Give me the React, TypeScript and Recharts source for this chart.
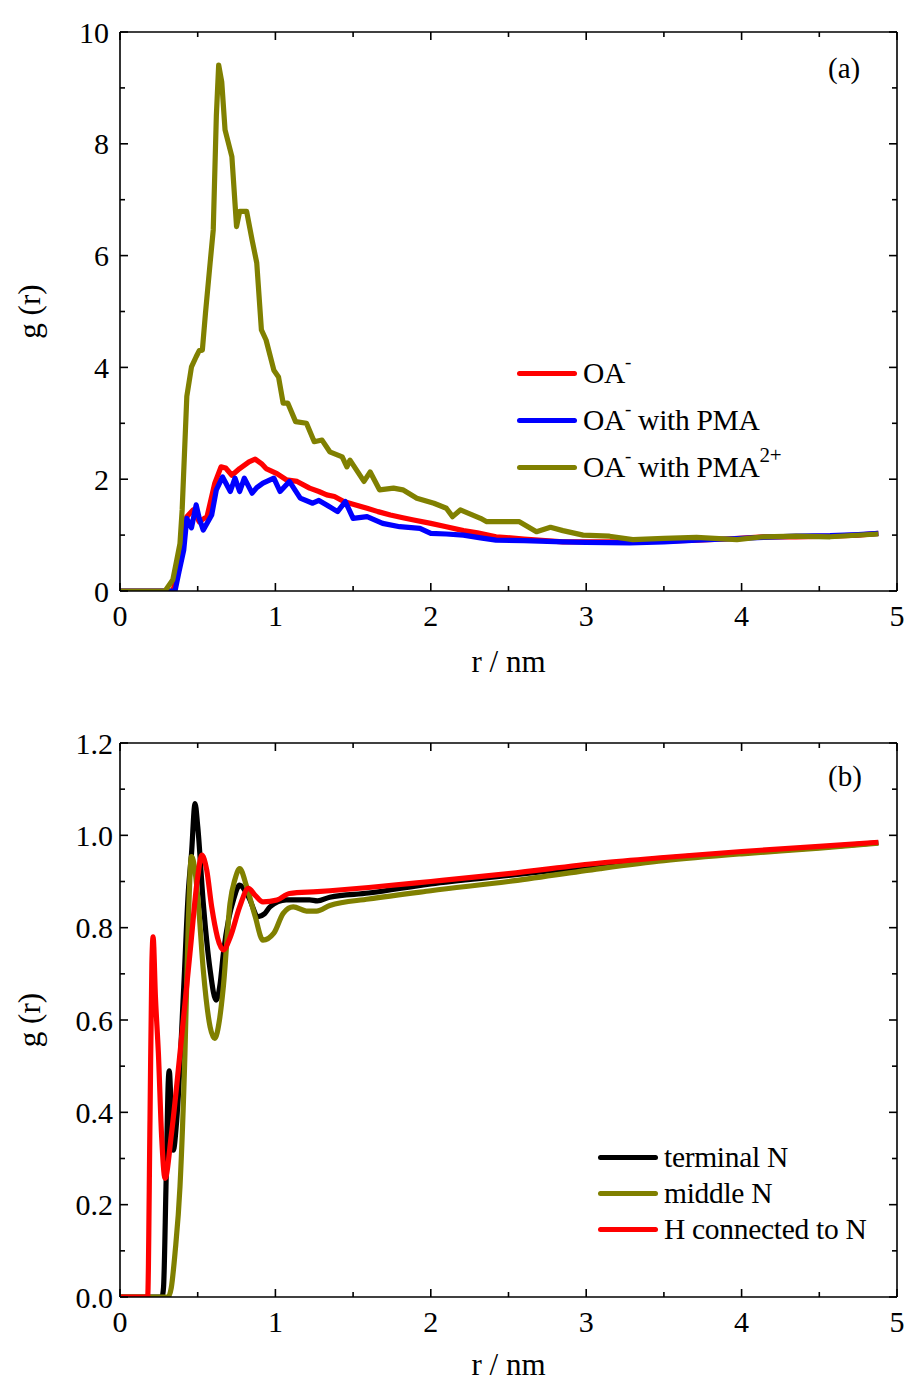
import React from "react";
import { LineChart, Line, XAxis, YAxis } from "recharts";

// ---- panel (a): g(r) of OA- around various species ----
const oaRed = [
  [0, 0], [0.34, 0], [0.36, 0.2], [0.386, 0.73], [0.41, 1.1], [0.43, 1.33], [0.47, 1.45], [0.51, 1.24],
  [0.56, 1.33], [0.61, 1.93], [0.65, 2.22], [0.68, 2.2], [0.72, 2.07], [0.77, 2.19], [0.83, 2.31],
  [0.87, 2.36], [0.91, 2.28], [0.94, 2.19], [1.01, 2.1], [1.07, 1.99], [1.14, 1.96], [1.22, 1.84],
  [1.28, 1.78], [1.33, 1.72], [1.38, 1.69], [1.44, 1.6], [1.5, 1.55], [1.59, 1.48], [1.66, 1.42],
  [1.74, 1.36], [1.82, 1.31], [1.89, 1.27], [2.0, 1.21], [2.1, 1.15], [2.21, 1.08], [2.3, 1.04],
  [2.42, 0.97], [2.6, 0.93], [2.85, 0.88], [3.0, 0.88], [3.28, 0.88], [3.5, 0.89], [3.71, 0.91],
  [3.9, 0.93], [4.14, 0.97], [4.35, 0.97], [4.57, 0.98], [4.75, 1.0], [4.88, 1.03],
];
const oaBlue = [
  [0, 0], [0.354, 0], [0.38, 0.35], [0.41, 0.73], [0.43, 1.3], [0.46, 1.13], [0.49, 1.54], [0.51, 1.3],
  [0.536, 1.09], [0.59, 1.36], [0.62, 1.81], [0.66, 2.04], [0.71, 1.78], [0.74, 2.02], [0.77, 1.78],
  [0.8, 2.02], [0.85, 1.75], [0.88, 1.85], [0.92, 1.93], [0.99, 2.02], [1.03, 1.78], [1.09, 1.96],
  [1.16, 1.66], [1.24, 1.57], [1.28, 1.62], [1.33, 1.54], [1.4, 1.42], [1.45, 1.6], [1.5, 1.3],
  [1.59, 1.33], [1.69, 1.21], [1.8, 1.15], [1.93, 1.12], [2.0, 1.03], [2.1, 1.02], [2.21, 1.0],
  [2.32, 0.95], [2.42, 0.91], [2.6, 0.9], [2.85, 0.88], [3.0, 0.87], [3.28, 0.86], [3.5, 0.88],
  [3.71, 0.91], [3.9, 0.93], [4.14, 0.96], [4.35, 0.98], [4.57, 0.99], [4.75, 1.01], [4.88, 1.03],
];
const oaOlive = [
  [0, 0], [0.29, 0], [0.34, 0.2], [0.365, 0.55], [0.386, 0.85], [0.4, 1.45], [0.43, 3.48], [0.46, 4.01],
  [0.49, 4.19], [0.51, 4.3], [0.53, 4.31], [0.55, 4.97], [0.58, 5.87], [0.6, 6.46], [0.62, 8.5],
  [0.635, 9.41], [0.655, 9.1], [0.676, 8.25], [0.72, 7.77], [0.75, 6.52], [0.77, 6.79], [0.815, 6.79],
  [0.85, 6.28], [0.88, 5.87], [0.91, 4.67], [0.94, 4.49], [0.99, 3.95], [1.02, 3.83], [1.05, 3.36],
  [1.08, 3.36], [1.13, 3.03], [1.2, 3.0], [1.25, 2.67], [1.3, 2.7], [1.35, 2.49], [1.43, 2.4],
  [1.46, 2.22], [1.48, 2.34], [1.57, 1.96], [1.61, 2.13], [1.67, 1.81], [1.76, 1.84], [1.82, 1.81],
  [1.91, 1.66], [2.02, 1.57], [2.1, 1.48], [2.14, 1.33], [2.19, 1.45], [2.32, 1.3], [2.36, 1.24],
  [2.57, 1.24], [2.68, 1.06], [2.77, 1.14], [2.85, 1.08], [2.98, 1.0], [3.15, 0.98], [3.3, 0.92],
  [3.5, 0.94], [3.71, 0.96], [3.97, 0.92], [4.14, 0.97], [4.35, 0.98], [4.57, 0.97], [4.88, 1.02],
];

// ---- panel (b): g(r) around nitrogen / hydrogen sites ----
const terminalN = [
  [0, 0], [0.27, 0], [0.28, 0.02], [0.296, 0.24], [0.311, 0.47], [0.317, 0.49], [0.332, 0.383],
  [0.343, 0.318], [0.365, 0.383], [0.41, 0.67], [0.44, 0.88], [0.46, 0.96], [0.483, 1.069], [0.5, 1.02],
  [0.536, 0.853], [0.58, 0.708], [0.618, 0.643], [0.645, 0.68], [0.665, 0.744], [0.7, 0.82], [0.73, 0.86],
  [0.77, 0.892], [0.826, 0.867], [0.89, 0.824], [0.93, 0.83], [0.965, 0.845], [1.07, 0.86], [1.22, 0.86],
  [1.27, 0.858], [1.35, 0.866], [1.6, 0.875], [2.0, 0.895], [2.5, 0.913], [3.09, 0.935], [3.5, 0.95],
  [4.0, 0.962], [4.5, 0.974], [4.88, 0.984],
];
const middleN = [
  [0, 0], [0.31, 0], [0.33, 0.02], [0.354, 0.095], [0.386, 0.239], [0.418, 0.528], [0.44, 0.817],
  [0.46, 0.954], [0.48, 0.93], [0.504, 0.853], [0.536, 0.708], [0.58, 0.585], [0.61, 0.56], [0.64, 0.6],
  [0.665, 0.672], [0.708, 0.853], [0.74, 0.905], [0.77, 0.928], [0.815, 0.889], [0.87, 0.824],
  [0.92, 0.773], [0.99, 0.788], [1.05, 0.831], [1.115, 0.845], [1.2, 0.836], [1.265, 0.836],
  [1.35, 0.848], [1.6, 0.862], [2.0, 0.88], [2.5, 0.9], [3.09, 0.928], [3.5, 0.945], [4.0, 0.96],
  [4.5, 0.972], [4.88, 0.983],
];
const hOnN = [
  [0, 0], [0.178, 0], [0.193, 0.383], [0.205, 0.72], [0.213, 0.78], [0.228, 0.65], [0.247, 0.528],
  [0.268, 0.347], [0.29, 0.257], [0.33, 0.35], [0.386, 0.528], [0.45, 0.744], [0.5, 0.91],
  [0.526, 0.957], [0.558, 0.925], [0.59, 0.845], [0.665, 0.752], [0.71, 0.78], [0.77, 0.845],
  [0.826, 0.885], [0.87, 0.87], [0.92, 0.856], [1.01, 0.86], [1.09, 0.874], [1.27, 0.878], [1.35, 0.88],
  [1.6, 0.887], [2.0, 0.9], [2.5, 0.917], [3.09, 0.94], [3.5, 0.952], [4.0, 0.965], [4.5, 0.976],
  [4.88, 0.985],
];

const xTicks = [0, 1, 2, 3, 4, 5];
const xMinorTicks = [0.5, 1.5, 2.5, 3.5, 4.5];
const yTicksA = [0, 2, 4, 6, 8, 10];
const yMinorA = [1, 3, 5, 7, 9];
const yTicksB = [0, 0.2, 0.4, 0.6, 0.8, 1.0, 1.2];
const yMinorB = [0.1, 0.3, 0.5, 0.7, 0.9, 1.1];

const legendA = [
  { color: "#ff0000", base: "OA", sup: "-", rest: "", sup2: "" },
  { color: "#0000ff", base: "OA", sup: "-", rest: " with PMA", sup2: "" },
  { color: "#808000", base: "OA", sup: "-", rest: " with PMA", sup2: "2+" },
];
const legendB = [
  { color: "#000000", base: "terminal N", sup: "", rest: "", sup2: "" },
  { color: "#808000", base: "middle N", sup: "", rest: "", sup2: "" },
  { color: "#ff0000", base: "H connected to N", sup: "", rest: "", sup2: "" },
];

const toPts = (arr: number[][]) => arr.map(([r, g]) => ({ r, g }));
const merge = (a: number[], b: number[]) => [...a, ...b].sort((p, q) => p - q);

const FONT = "'Liberation Serif', 'Times New Roman', serif";
const labelStyle = { fontSize: 31, fill: "#000", fontFamily: FONT };
const axisLine = { stroke: "#000", strokeWidth: 1.6 };
const LW = 5.2;
const W = 909;
const MR = 12; // right margin
const XTM = 14; // x tick label gap
const MAJ = 8;
const MIN = 5;

// x tick: inward tick on bottom and top edges, label only for majors
function xTick(major: number[], plotTop: number) {
  return (props: any) => {
    const { x, y, payload } = props;
    const isMajor = major.some((m) => Math.abs(m - payload.value) < 1e-9);
    const len = isMajor ? MAJ : MIN;
    const axisY = y - XTM;
    return (
      <g>
        <line x1={x} x2={x} y1={axisY} y2={axisY - len} stroke="#000" strokeWidth={1.6} />
        <line x1={x} x2={x} y1={plotTop} y2={plotTop + len} stroke="#000" strokeWidth={1.6} />
        {isMajor && (
          <text x={x} y={y} dy="0.71em" textAnchor="middle" fontSize={30} fontFamily={FONT} fill="#000">
            {payload.value}
          </text>
        )}
      </g>
    );
  };
}

// y tick: inward tick on left and right edges, label only for majors
function yTick(major: number[], tm: number, fmt: (v: number) => string) {
  return (props: any) => {
    const { x, y, payload } = props;
    const isMajor = major.some((m) => Math.abs(m - payload.value) < 1e-9);
    const len = isMajor ? MAJ : MIN;
    const axisX = x + tm;
    const right = W - MR;
    return (
      <g>
        <line x1={axisX} x2={axisX + len} y1={y} y2={y} stroke="#000" strokeWidth={1.6} />
        <line x1={right} x2={right - len} y1={y} y2={y} stroke="#000" strokeWidth={1.6} />
        {isMajor && (
          <text x={x} y={y} dy="0.355em" textAnchor="end" fontSize={30} fontFamily={FONT} fill="#000">
            {fmt(payload.value)}
          </text>
        )}
      </g>
    );
  };
}

function axes(yMajor: number[], yMinor: number[], yMax: number, yTm: number, plotTop: number, xLabelOffset: number, fmt: (v: number) => string) {
  const xDom: [number, number] = [0, 5];
  const yDom: [number, number] = [0, yMax];
  return [
    <XAxis key="x" xAxisId={0} type="number" dataKey="r" domain={xDom} ticks={merge(xTicks, xMinorTicks)} height={1}
      tickSize={0} tickMargin={XTM} tick={xTick(xTicks, plotTop)} axisLine={axisLine} tickLine={false}
      interval={0} allowDataOverflow label={{ value: "r / nm", position: "bottom", offset: xLabelOffset, style: labelStyle }} />,
    <XAxis key="xt" xAxisId="xt" mirror orientation="top" type="number" domain={xDom} height={1}
      tick={false} axisLine={axisLine} tickLine={false} />,
    <YAxis key="y" yAxisId={0} type="number" domain={yDom} ticks={merge(yMajor, yMinor)} width={1} tickSize={0} tickMargin={yTm}
      tick={yTick(yMajor, yTm, fmt)} axisLine={axisLine} tickLine={false} interval={0} allowDataOverflow
      label={{ value: "g (r)", angle: -90, position: "left", offset: 90, style: { ...labelStyle, textAnchor: "middle" } }} />,
    <YAxis key="yr" yAxisId="yr" mirror orientation="right" type="number" domain={yDom} width={1}
      tick={false} axisLine={axisLine} tickLine={false} />,
  ];
}

function LegendBox({ items, left, top, gap }: { items: typeof legendA; left: number; top: number; gap: number }) {
  return (
    <div style={{ position: "absolute", left, top, fontFamily: FONT, fontSize: 29.5, color: "#000" }}>
      {items.map((it, i) => (
        <div key={i} style={{ position: "absolute", top: i * gap, left: 0, whiteSpace: "nowrap", display: "flex", alignItems: "center", height: 34 }}>
          <span style={{ display: "inline-block", width: 60, height: 5, background: it.color, borderRadius: 2.5, marginRight: 6 }} />
          <span style={{ letterSpacing: -0.3 }}>
            {it.base}
            {it.sup && <sup style={{ fontSize: 19, verticalAlign: "top", position: "relative", top: -6 }}>{it.sup}</sup>}
            {it.rest}
            {it.sup2 && <sup style={{ fontSize: 21, verticalAlign: "top", position: "relative", top: -8 }}>{it.sup2}</sup>}
          </span>
        </div>
      ))}
    </div>
  );
}

export default function App() {
  return (
    <div style={{ position: "absolute", left: 0, top: 0, width: W, height: 1385, background: "#fff", fontFamily: FONT }}>
      <div style={{ position: "absolute", left: 0, top: 0 }}>
        <LineChart width={W} height={700} margin={{ top: 32, right: MR, bottom: 108, left: 119 }}>
          {axes(yTicksA, yMinorA, 10, 11, 32, 58, (v) => String(v))}
          <Line data={toPts(oaRed)} dataKey="g" stroke="#ff0000" strokeWidth={LW} strokeLinejoin="round" dot={false} isAnimationActive={false} />
          <Line data={toPts(oaBlue)} dataKey="g" stroke="#0000ff" strokeWidth={LW} strokeLinejoin="round" dot={false} isAnimationActive={false} />
          <Line data={toPts(oaOlive)} dataKey="g" stroke="#808000" strokeWidth={LW} strokeLinejoin="round" dot={false} isAnimationActive={false} />
        </LineChart>
      </div>
      <div style={{ position: "absolute", left: 828, top: 52, fontSize: 29 }}>(a)</div>
      <LegendBox items={legendA} left={517} top={356} gap={47} />

      <div style={{ position: "absolute", left: 0, top: 700 }}>
        <LineChart width={W} height={685} margin={{ top: 43, right: MR, bottom: 87, left: 119 }}>
          {axes(yTicksB, yMinorB, 1.2, 7, 43, 55, (v) => v.toFixed(1))}
          <Line data={toPts(terminalN)} type="monotone" dataKey="g" stroke="#000000" strokeWidth={LW} dot={false} isAnimationActive={false} />
          <Line data={toPts(middleN)} type="monotone" dataKey="g" stroke="#808000" strokeWidth={LW} dot={false} isAnimationActive={false} />
          <Line data={toPts(hOnN)} type="monotone" dataKey="g" stroke="#ff0000" strokeWidth={LW} dot={false} isAnimationActive={false} />
        </LineChart>
      </div>
      <div style={{ position: "absolute", left: 828, top: 760, fontSize: 29 }}>(b)</div>
      <LegendBox items={legendB} left={598} top={1140} gap={36} />
    </div>
  );
}
